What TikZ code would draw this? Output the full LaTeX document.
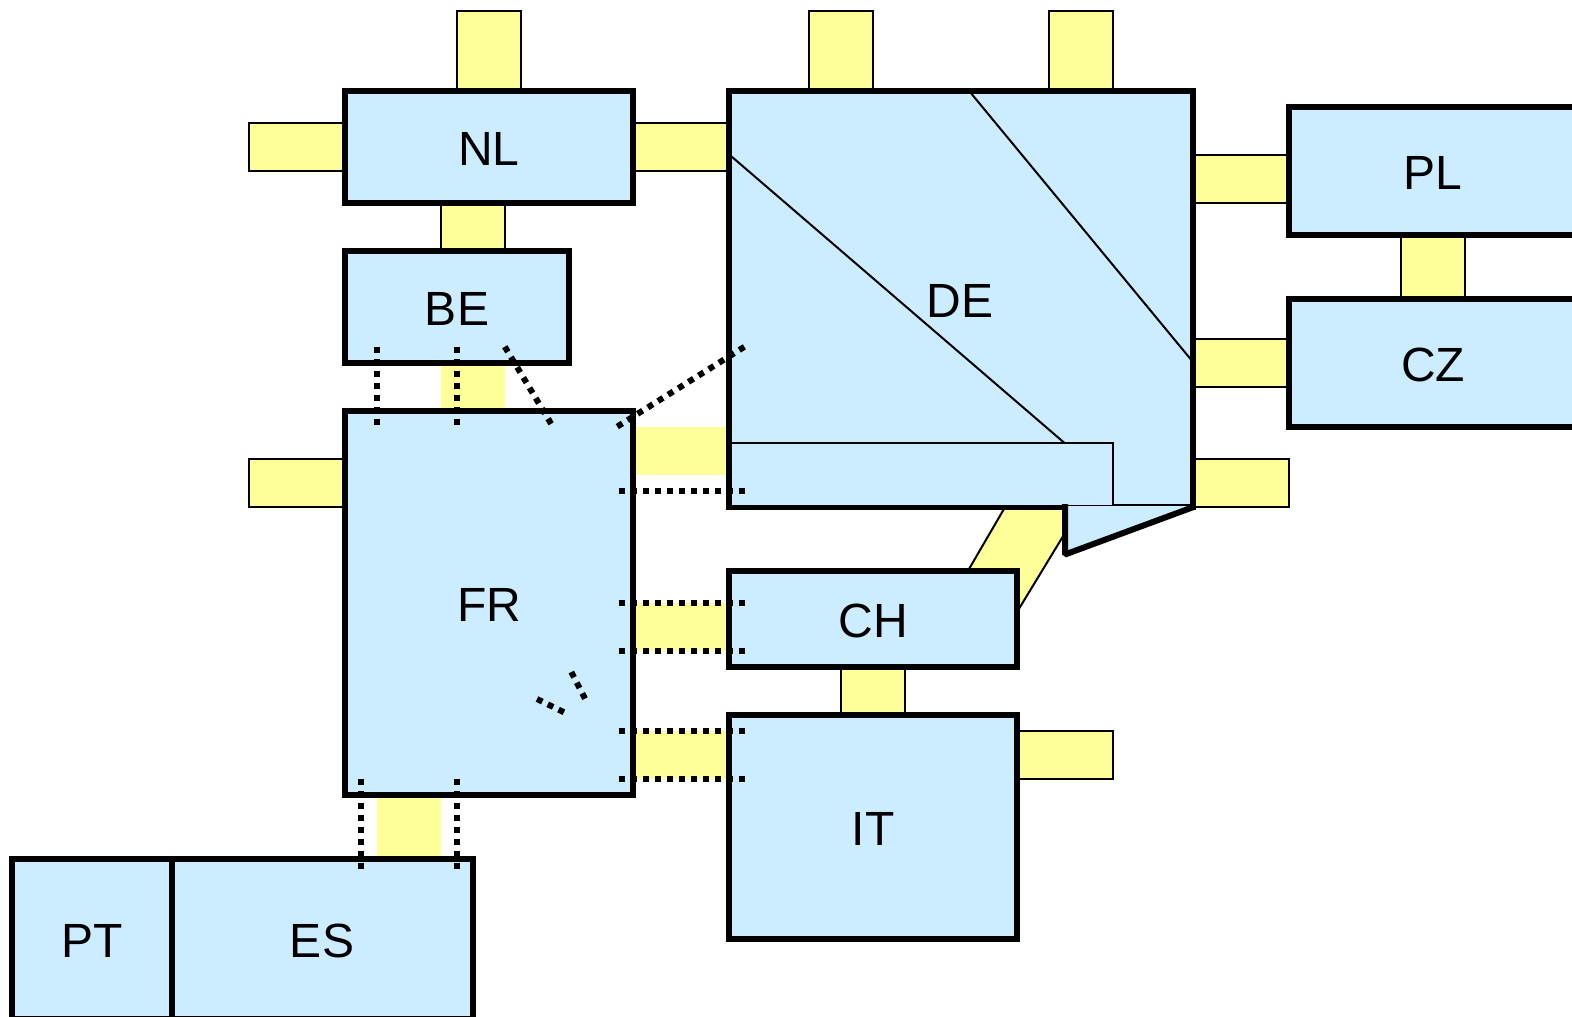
\documentclass[tikz,border=0pt]{standalone}
\usepackage{fontspec}
\setmainfont{Liberation Sans}
\usepackage{xcolor}
\usetikzlibrary{positioning,backgrounds}
\definecolor{zoneblue}{HTML}{CCECFF}
\definecolor{linkyellow}{HTML}{FFFF99}

\begin{document}
\begin{tikzpicture}[
  x=1pt,y=-1pt,
  zonetext/.style={inner sep=0pt,outer sep=0pt,text height=36.5pt,text depth=0pt,font=\fontsize{48}{52}\selectfont},
  zone/.style={zonetext,draw,line width=6pt,fill=zoneblue},
  link/.style={fill=linkyellow,inner sep=0pt,outer sep=0pt},
  blink/.style={link,draw,line width=2pt},
  thinline/.style={line width=2pt},
  dots/.style={line width=6pt,dash pattern=on 6pt off 6pt}
]
\useasboundingbox (0,0) rectangle (1572,1017);

\node[zone,minimum width=288pt,minimum height=112pt] (nl) at (489,147) {NL};
\node[zone,minimum width=224pt,minimum height=112pt] (be) at (457,307) {BE};
\node[zone,minimum width=288pt,minimum height=384pt] (fr) at (489,603) {FR};
\node[zone,minimum width=464.4pt,minimum height=416pt] (de) at (961.2,299) {};
\node[zone,minimum width=288pt,minimum height=127.5pt] (pl) at (1433,170.75) {PL};
\node[zone,minimum width=288pt,minimum height=128pt] (cz) at (1433,363) {CZ};
\node[zone,minimum width=288pt,minimum height=96pt] (ch) at (873,619) {CH};
\node[zone,minimum width=288pt,minimum height=224pt] (it) at (873,827) {IT};
\node[zone,minimum width=160.3pt,minimum height=160pt] (pt) at (92.5,939) {PT};
\node[zone,minimum width=301pt,minimum height=160pt] (es) at (322,939) {ES};

% DE, its inner lines and the notch
\draw[thinline] (731.5,156.5) -- (1064.5,443);
\draw[thinline] (970,92) -- (1190.5,359);
\draw[thinline,fill=zoneblue] (731,443) rectangle (1113,505.5);
\fill[zoneblue] (1065,506) -- (1190.5,506) -- (1193.5,507) -- (1065,554.5) -- cycle;
\draw[line width=6pt,line join=bevel] (1193.5,507) -- (1065,554.5) -- (1065,504);
\node[zonetext] (delabel) at (960,299) {DE};

\begin{scope}[on background layer]
\node[blink,minimum width=96pt,minimum height=48pt,left=0pt of nl] (nlw) {};
\node[blink,minimum width=64pt,minimum height=80pt,above=0pt of nl] (nln) {};
\node[blink,minimum width=96pt,minimum height=48pt,right=0pt of nl] (nlde) {};
\node[blink,minimum width=64pt,minimum height=48pt,below=0pt of nl,xshift=-16pt] (nlbe) {};
\node[link,minimum width=64pt,minimum height=48pt,below=0pt of be,xshift=16pt] (befr) {};
\node[blink,minimum width=64pt,minimum height=80pt,above=0pt of de,xshift=-120.2pt] (dena) {};
\node[blink,minimum width=64pt,minimum height=80pt,above=0pt of de,xshift=119.8pt] (denb) {};
\node[blink,minimum width=95.6pt,minimum height=48pt,left=0pt of pl,yshift=-8.25pt] (depl) {};
\node[blink,minimum width=95.6pt,minimum height=48pt,left=0pt of cz] (decz) {};
\node[blink,minimum width=64pt,minimum height=64.5pt,below=0pt of pl] (plcz) {};
\node[blink,minimum width=95.8pt,minimum height=48pt,right=0pt of de,yshift=-184pt] (dee) {};
\node[blink,minimum width=96pt,minimum height=48pt,left=0pt of fr,yshift=120pt] (frw) {};
\node[link,minimum width=96pt,minimum height=48pt,right=0pt of fr,yshift=152pt] (frde) {};
\node[link,minimum width=96pt,minimum height=48pt,right=0pt of fr,yshift=-24pt] (frch) {};
\node[link,minimum width=96pt,minimum height=48pt,right=0pt of fr,yshift=-152pt] (frit) {};
\node[link,minimum width=64pt,minimum height=64pt,below=0pt of fr,xshift=-80pt] (fres) {};
\node[blink,minimum width=64pt,minimum height=48pt,below=0pt of ch] (chit) {};
\node[blink,minimum width=96pt,minimum height=48pt,right=0pt of it,yshift=72pt] (ite) {};
% CH to DE
\fill[linkyellow] (1005.7,506) -- (1065,506) -- (1065,533) -- (1017,612) -- (968.4,570) -- cycle;
\draw[thinline] (1005.7,506) -- (968.4,570);
\draw[thinline] (1065,533) -- (1017,612);
\end{scope}

% dotted cuts
\draw[dots] (377,347) -- (377,425);
\draw[dots] (457,347) -- (457,425);
\draw[dots] (504.8,346.7) -- (551.2,423.9);
\draw[dots] (617.3,426.6) -- (745.5,346.1);
\draw[dots] (619,491) -- (745,491);
\draw[dots] (619,603) -- (745,603);
\draw[dots] (619,651) -- (745,651);
\draw[dots] (619,731) -- (745,731);
\draw[dots] (619,779) -- (745,779);
\draw[dots] (571.3,672) -- (585.4,699.4);
\draw[dots] (537,699) -- (564,712.3);
\draw[dots] (361,779) -- (361,869);
\draw[dots] (457,779) -- (457,869);
\end{tikzpicture}
\end{document}
